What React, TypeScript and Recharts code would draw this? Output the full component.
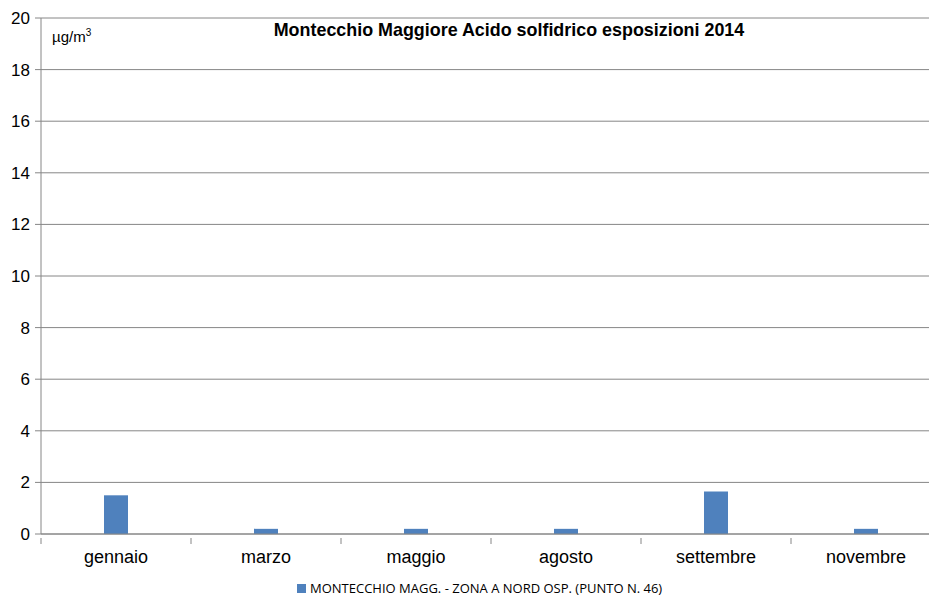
import React from 'react';
import { BarChart, Bar, XAxis, YAxis, CartesianGrid } from 'recharts';

const months = ['gennaio', 'marzo', 'maggio', 'agosto', 'settembre', 'novembre'];
const values = [1.5, 0.2, 0.2, 0.2, 1.65, 0.2];
const yTicks = [0, 2, 4, 6, 8, 10, 12, 14, 16, 18, 20];
const seriesName = 'MONTECCHIO MAGG. - ZONA A NORD OSP. (PUNTO N. 46)';
const title = 'Montecchio Maggiore Acido solfidrico esposizioni 2014';

const data = months.map((m, i) => ({ month: m, value: values[i] }));

const W = 929;
const H = 597;
const CHART_W = 941;
const LEFT = 41;
const BAND = (CHART_W - LEFT) / months.length;

const XTick = (props: any) => {
  const { x, y, payload, index } = props;
  const left = x - BAND / 2;
  return (
    <g>
      <line x1={left} y1={y - 2} x2={left} y2={y + 4} stroke="#868686" />
      {index === months.length - 1 && (
        <line x1={left + BAND} y1={y - 2} x2={left + BAND} y2={y + 4} stroke="#868686" />
      )}
      <text x={x} y={y + 23} textAnchor="middle" fontSize={18} fill="#000" fontFamily="'Liberation Sans', Arial, sans-serif">
        {payload.value}
      </text>
    </g>
  );
};

export default function App() {
  return (
    <div style={{ position: 'fixed', left: 0, top: 0, width: W, height: H, overflow: 'hidden', background: '#fff', fontFamily: "'Liberation Sans', Arial, sans-serif" }}>
      <style>{'html,body{margin:0;overflow:hidden;}'}</style>
      <BarChart width={CHART_W} height={H} data={data} margin={{ top: 18, right: 0, bottom: 0, left: 0 }} barSize={24}>
        <CartesianGrid vertical={false} stroke="#868686" strokeWidth={1} />
        <XAxis
          dataKey="month"
          stroke="#868686"
          tickLine={false}
          tick={<XTick />}
          tickMargin={0}
          interval={0}
          height={63}
        />
        <YAxis
          width={LEFT}
          domain={[0, 20]}
          ticks={yTicks}
          interval={0}
          stroke="#868686"
          tickSize={6}
          tickMargin={5}
          tick={{ fill: '#000', fontSize: 17, fontFamily: "'Liberation Sans', Arial, sans-serif" }}
        />
        <Bar dataKey="value" name={seriesName} fill="#4F81BD" isAnimationActive={false} />
      </BarChart>
      <div style={{ position: 'absolute', left: 209, width: 600, top: 20, textAlign: 'center', fontWeight: 'bold', fontSize: 17.9, color: '#000', whiteSpace: 'nowrap' }}>
        {title}
      </div>
      <div style={{ position: 'absolute', left: 52, top: 27, fontSize: 15, color: '#000' }}>
        µg/m<sup style={{ fontSize: 10 }}>3</sup>
      </div>
      <div style={{ position: 'absolute', left: 297, top: 579, display: 'flex', alignItems: 'center', fontSize: 13, fontFamily: "'Open Sans', sans-serif", color: '#000', whiteSpace: 'nowrap' }}>
        <span style={{ display: 'inline-block', width: 9, height: 9, background: '#4F81BD', marginRight: 4 }} />
        {seriesName}
      </div>
    </div>
  );
}
